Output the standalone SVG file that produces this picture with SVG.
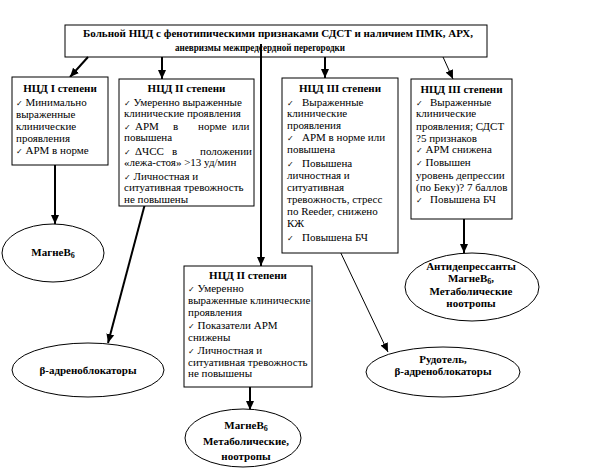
<svg xmlns="http://www.w3.org/2000/svg" width="593" height="474" viewBox="0 0 593 474" font-family="'Liberation Serif', 'Times New Roman', serif" font-size="11">
<style>
.box{fill:#fff;stroke:#000;stroke-width:1}
.ell{fill:#fff;stroke:#000;stroke-width:1}
text{font-family:'Liberation Serif','Times New Roman',serif;font-size:11px;fill:#000}
.b{font-weight:bold}
.c{text-anchor:middle}
.ck{font-family:'DejaVu Sans',sans-serif;font-size:8px}
.sub{font-size:8px}
.th{stroke:#000;stroke-width:2;fill:none}
.tn{stroke:#000;stroke-width:1;fill:none}
</style>
<defs>
<marker id="ah" markerUnits="userSpaceOnUse" markerWidth="10" markerHeight="10" refX="9" refY="5" orient="auto">
<path d="M0,1 L9,5 L0,9 Z" fill="#000"/>
</marker>
</defs>
<rect width="593" height="474" fill="#fff"/>

<g id="top">
<rect class="box" x="65" y="25" width="422" height="32"/>
<text class="b c" x="278" y="37" textLength="390" lengthAdjust="spacingAndGlyphs">Больной НЦД с фенотипическими признаками СДСТ и наличием ПМК, АРХ,</text>
<text class="b c" x="260" y="51" textLength="170" lengthAdjust="spacingAndGlyphs">аневризмы межпредсердной перегородки</text>
</g>

<g id="connectors">
<line class="th" x1="88" y1="57" x2="70" y2="77" marker-end="url(#ah)"/>
<line class="th" x1="162" y1="57" x2="162" y2="79" marker-end="url(#ah)"/>
<line class="th" x1="261" y1="44" x2="261" y2="266" marker-end="url(#ah)"/>
<line class="th" x1="325" y1="57" x2="325" y2="78" marker-end="url(#ah)"/>
<line class="tn" x1="443" y1="57" x2="453" y2="79" marker-end="url(#ah)"/>
<line class="th" x1="55" y1="165" x2="55" y2="224" marker-end="url(#ah)"/>
<line class="th" x1="146" y1="200" x2="108" y2="343" marker-end="url(#ah)"/>
<line class="tn" x1="338" y1="247" x2="388" y2="352" marker-end="url(#ah)"/>
<line class="th" x1="464" y1="219" x2="464" y2="253" marker-end="url(#ah)"/>
<line class="th" x1="250" y1="387" x2="250" y2="410" marker-end="url(#ah)"/>
</g>

<g id="n1">
<rect class="box" x="12" y="77" width="96" height="88"/>
<text class="b c" x="60" y="92">НЦД I степени</text>
<text x="16" y="106"><tspan class="ck">✓</tspan> Минимально</text>
<text x="16" y="118">выраженные</text>
<text x="16" y="130">клинические</text>
<text x="16" y="142">проявления</text>
<text x="16" y="154"><tspan class="ck">✓</tspan> АРМ в норме</text>
</g>

<g id="n2">
<rect class="box" x="119" y="79" width="135" height="127"/>
<text class="b c" x="186.5" y="92">НЦД II степени</text>
<text x="124" y="105.5"><tspan class="ck">✓</tspan> Умеренно выраженные</text>
<text x="124" y="116.5">клинические проявления</text>
<text y="130"><tspan class="ck" x="124">✓</tspan><tspan x="135">АРМ</tspan><tspan x="173">в</tspan><tspan x="198">норме</tspan><tspan x="232">или</tspan></text>
<text x="124" y="141">повышена</text>
<text y="155"><tspan class="ck" x="124">✓</tspan><tspan x="135">ΔЧСС</tspan><tspan x="172">в</tspan><tspan x="200">положении</tspan></text>
<text x="124" y="166">«лежа-стоя» &gt;13 уд/мин</text>
<text x="124" y="180"><tspan class="ck">✓</tspan> Личностная и</text>
<text x="124" y="191">ситуативная тревожность</text>
<text x="124" y="203">не повышены</text>
</g>

<g id="n3">
<rect class="box" x="282" y="78" width="116" height="175"/>
<text class="b c" x="340" y="92">НЦД III степени</text>
<text y="105.5"><tspan class="ck" x="287">✓</tspan><tspan x="302">Выраженные</tspan></text>
<text x="287" y="116.5">клинические</text>
<text x="287" y="128.5">проявления</text>
<text y="140.5"><tspan class="ck" x="287">✓</tspan><tspan x="302">АРМ в норме или</tspan></text>
<text x="287" y="152.5">повышена</text>
<text y="166.5"><tspan class="ck" x="287">✓</tspan><tspan x="302">Повышена</tspan></text>
<text x="287" y="178.5">личностная и</text>
<text x="287" y="190.5">ситуативная</text>
<text x="287" y="202.5">тревожность, стресс</text>
<text x="287" y="215">по Reeder, снижено</text>
<text x="287" y="227">КЖ</text>
<text y="240.5"><tspan class="ck" x="287">✓</tspan><tspan x="302">Повышена БЧ</tspan></text>
</g>

<g id="n4">
<rect class="box" x="411" y="79" width="101" height="140"/>
<text class="b c" x="461.5" y="92.5">НЦД III степени</text>
<text y="105.5"><tspan class="ck" x="416">✓</tspan><tspan x="430">Выраженные</tspan></text>
<text x="416" y="117">клинические</text>
<text x="416" y="129.5">проявления; СДСТ</text>
<text x="416" y="141.5">?5 признаков</text>
<text x="416" y="153"><tspan class="ck">✓</tspan> АРМ снижена</text>
<text x="416" y="165.5"><tspan class="ck">✓</tspan> Повышен</text>
<text x="416" y="178.5">уровень депрессии</text>
<text x="416" y="191">(по Беку)? 7 баллов</text>
<text y="203"><tspan class="ck" x="416">✓</tspan><tspan x="430">Повышена БЧ</tspan></text>
</g>

<g id="n5">
<rect class="box" x="184" y="266" width="128" height="121"/>
<text class="b c" x="248" y="278.5">НЦД II степени</text>
<text x="188" y="291.5"><tspan class="ck">✓</tspan> Умеренно</text>
<text x="188" y="304">выраженные клинические</text>
<text x="188" y="315.5">проявления</text>
<text x="188" y="328.5"><tspan class="ck">✓</tspan> Показатели АРМ</text>
<text x="188" y="340.5">снижены</text>
<text x="188" y="353.5"><tspan class="ck">✓</tspan> Личностная и</text>
<text x="188" y="365.5">ситуативная тревожность</text>
<text x="188" y="377">не повышены</text>
</g>

<g id="e1">
<ellipse class="ell" cx="53" cy="253" rx="51" ry="29"/>
<text class="b c" x="53" y="256">МагнеВ<tspan class="sub" dy="2">6</tspan></text>
</g>

<g id="e2">
<ellipse class="ell" cx="88" cy="370" rx="76" ry="27"/>
<text class="b c" x="88" y="374">β-адреноблокаторы</text>
</g>

<g id="e3">
<ellipse class="ell" cx="472" cy="287" rx="67" ry="34"/>
<text class="b c" x="471" y="270">Антидепрессанты</text>
<text class="b c" x="471" y="282">МагнеВ<tspan class="sub" dy="2">6</tspan><tspan dy="-2">,</tspan></text>
<text class="b c" x="471" y="294.5">Метаболические</text>
<text class="b c" x="471" y="306.5">ноотропы</text>
</g>

<g id="e4">
<ellipse class="ell" cx="443" cy="372" rx="77" ry="25"/>
<text class="b c" x="443" y="363">Рудотель,</text>
<text class="b c" x="443" y="375">β-адреноблокаторы</text>
</g>

<g id="e5">
<ellipse class="ell" cx="243" cy="438" rx="58" ry="29"/>
<text class="b c" x="246" y="429">МагнеВ<tspan class="sub" dy="2">6</tspan></text>
<text class="b c" x="246" y="445">Метаболические,</text>
<text class="b c" x="246" y="460">ноотропы</text>
</g>
</svg>
